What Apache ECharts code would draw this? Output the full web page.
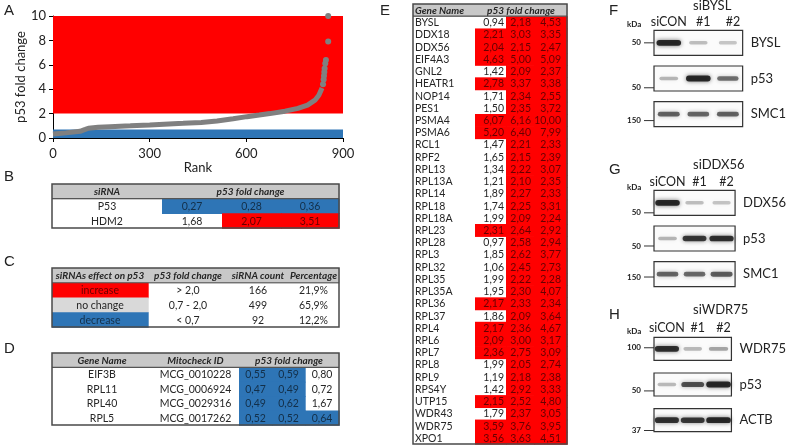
<!DOCTYPE html>
<html><head><meta charset="utf-8">
<script src="https://cdn.jsdelivr.net/npm/echarts@6/dist/echarts.min.js"></script>
<style>html,body{margin:0;padding:0;background:#fff}#c{width:789px;height:446px}</style>
</head><body><div id="c"></div>
<script>
// ---------------- DATA ----------------
// Panel A: ranked p53 fold change curve
const rankA = [0, 40, 84, 100, 110, 140, 177, 240, 300, 404, 460, 509, 559, 602, 640, 673, 720, 760, 790, 813, 825, 835];
const foldA = [0.33, 0.42, 0.55, 0.70, 0.80, 0.88, 0.93, 1.00, 1.07, 1.20, 1.28, 1.39, 1.58, 1.75, 1.88, 2.00, 2.20, 2.43, 2.70, 3.10, 3.50, 4.10];
const tailRank = [838, 840, 841, 842, 843, 845, 847, 854, 854];
const tailFold = [4.4, 4.8, 5.1, 5.4, 5.7, 6.1, 6.4, 7.9, 10.0];
const xTicksA = [0, 300, 600, 900];
const yTicksA = [0, 2, 4, 6, 8, 10];
const increaseRange = [2, 10];
const decreaseRange = [0, 0.7];

// Panel B
const bSirna = ['P53', 'HDM2'];
const bFold = [[0.27, 0.28, 0.36], [1.68, 2.07, 3.51]];
// Panel C
const cEffect = ['increase', 'no change', 'decrease'];
const cRange = ['> 2,0', '0,7 - 2,0', '< 0,7'];
const cCount = [166, 499, 92];
const cPercent = ['21,9%', '65,9%', '12,2%'];
// Panel D
const dGenes = ['EIF3B', 'RPL11', 'RPL40', 'RPL5'];
const dIds = ['MCG_0010228', 'MCG_0006924', 'MCG_0029316', 'MCG_0017262'];
const dFold = [[0.55, 0.59, 0.80], [0.47, 0.49, 0.72], [0.49, 0.62, 1.67], [0.52, 0.52, 0.64]];
// Panel E
const eGenes = ['BYSL','DDX18','DDX56','EIF4A3','GNL2','HEATR1','NOP14','PES1','PSMA4','PSMA6','RCL1','RPF2','RPL13','RPL13A','RPL14','RPL18','RPL18A','RPL23','RPL28','RPL3','RPL32','RPL35','RPL35A','RPL36','RPL37','RPL4','RPL6','RPL7','RPL8','RPL9','RPS4Y','UTP15','WDR43','WDR75','XPO1'];
const eFold = [[0.94,2.18,4.53],[2.21,3.03,3.35],[2.04,2.15,2.47],[4.63,5.00,5.09],[1.42,2.09,2.37],[2.78,3.37,3.38],[1.71,2.34,2.55],[1.50,2.35,3.72],[6.07,6.16,10.00],[5.20,6.40,7.99],[1.47,2.21,2.33],[1.65,2.15,2.39],[1.34,2.22,3.07],[1.21,2.10,2.35],[1.89,2.27,2.33],[1.74,2.25,3.31],[1.99,2.09,2.24],[2.31,2.64,2.92],[0.97,2.58,2.94],[1.85,2.62,3.77],[1.06,2.45,2.73],[1.99,2.22,2.28],[1.95,2.30,4.07],[2.17,2.33,2.34],[1.86,2.09,3.64],[2.17,2.36,4.67],[2.09,3.00,3.17],[2.36,2.75,3.09],[1.99,2.05,2.74],[1.19,2.18,2.38],[1.42,2.92,3.33],[2.15,2.52,4.80],[1.79,2.37,3.05],[3.59,3.76,3.95],[3.56,3.63,4.51]];
// Western blots (band intensity 0..1 per protein row, per lane)
const blotLanes = ['siCON', '#1', '#2'];
const fTitle = 'siBYSL', fProteins = ['BYSL', 'p53', 'SMC1'], fBands = [[0.95, 0.18, 0.14], [0.22, 0.95, 0.55], [0.62, 0.6, 0.62]], fKda = ['50', '50', '150'];
const gTitle = 'siDDX56', gProteins = ['DDX56', 'p53', 'SMC1'], gBands = [[0.95, 0.18, 0.15], [0.22, 0.85, 0.9], [0.6, 0.58, 0.65]], gKda = ['50', '50', '150'];
const hTitle = 'siWDR75', hProteins = ['WDR75', 'p53', 'ACTB'], hBands = [[0.9, 0.2, 0.3], [0.2, 0.72, 0.95], [0.88, 0.85, 0.95]], hKda = ['100', '50', '37'];

// ---------------- STYLE / LAYOUT ----------------
const FONT = 'Lato, "Open Sans", sans-serif';
const RED = '#ff0000', BLUE = '#2e75b6', HDR = '#c8c8c8', LGRAY = '#d9d9d9', GREYLINE = '#808080';
const fmt = v => v.toFixed(2).replace('.', ',');
const foldFill = v => v > 2 ? RED : (v < 0.7 ? BLUE : null);

const grids = [], xAxes = [], yAxes = [], series = [], graphics = [];

// ---------- Panel A ----------
grids.push({left: 53, top: 16, width: 290, height: 122});
xAxes.push({gridIndex: 0, type: 'value', min: xTicksA[0], max: xTicksA[xTicksA.length - 1], interval: 300,
  name: 'Rank', nameLocation: 'middle', nameGap: 17, nameTextStyle: {fontFamily: FONT, fontSize: 13, color: '#222'},
  axisLine: {lineStyle: {color: '#000', width: 1}}, axisTick: {length: 4, lineStyle: {color: '#000'}},
  axisLabel: {fontFamily: FONT, fontSize: 13, color: '#222', margin: 9}, splitLine: {show: false}});
yAxes.push({gridIndex: 0, type: 'value', min: yTicksA[0], max: yTicksA[yTicksA.length - 1], interval: 2,
  name: 'p53 fold change', nameLocation: 'middle', nameGap: 21, nameTextStyle: {fontFamily: FONT, fontSize: 13, color: '#222'},
  axisLine: {show: true, lineStyle: {color: '#000', width: 1}}, axisTick: {show: true, length: 4, lineStyle: {color: '#000'}},
  axisLabel: {fontFamily: FONT, fontSize: 13, color: '#222', margin: 7}, splitLine: {show: false}});
series.push({type: 'line', xAxisIndex: 0, yAxisIndex: 0, data: [], z: 1, silent: true,
  markArea: {silent: true, data: [
    [{xAxis: xTicksA[0], yAxis: increaseRange[0], itemStyle: {color: RED, opacity: 1}}, {xAxis: xTicksA[3], yAxis: increaseRange[1]}],
    [{xAxis: xTicksA[0], yAxis: decreaseRange[0], itemStyle: {color: BLUE, opacity: 1}}, {xAxis: xTicksA[3], yAxis: decreaseRange[1]}]
  ]}});
series.push({type: 'line', xAxisIndex: 0, yAxisIndex: 0, z: 5, silent: true, showSymbol: false,
  data: rankA.map((r, i) => [r, foldA[i]]), lineStyle: {color: GREYLINE, width: 5}, itemStyle: {color: GREYLINE}});
series.push({type: 'scatter', xAxisIndex: 0, yAxisIndex: 0, z: 5, silent: true, symbolSize: 6,
  data: tailRank.map((r, i) => [r, tailFold[i]]), itemStyle: {color: GREYLINE, opacity: 1}});

// ---------- Table builder ----------
function addTable(box, colEdges, nRows, cells, fontSize, hdrSize) {
  const gi = grids.length;
  const maxX = colEdges[colEdges.length - 1];
  grids.push({left: box.left, top: box.top, width: box.width, height: box.height});
  xAxes.push({gridIndex: gi, type: 'value', min: 0, max: maxX, show: false});
  yAxes.push({gridIndex: gi, type: 'category', data: Array.from({length: nRows}, (_, i) => String(i)), inverse: true, show: false});
  const all = cells.concat([{frame: true, r: 0, c0: 0, c1: colEdges.length - 1}]);
  series.push({type: 'custom', xAxisIndex: gi, yAxisIndex: gi, silent: true, clip: false, z: 3,
    data: all.map(c => [colEdges[c.c0], c.r]),
    renderItem(params, api) {
      const c = all[params.dataIndex];
      const h = api.size([0, 1])[1];
      if (c.frame) {
        const tl = api.coord([0, 0]), br = api.coord([maxX, nRows - 1]);
        return {type: 'group', children: [
          {type: 'line', shape: {x1: tl[0], y1: tl[1] + h / 2, x2: br[0], y2: tl[1] + h / 2}, style: {stroke: '#555', lineWidth: 1.2}},
          {type: 'rect', shape: {x: tl[0], y: tl[1] - h / 2, width: br[0] - tl[0], height: br[1] - tl[1] + h}, style: {fill: null, stroke: '#4a4a4a', lineWidth: 1.5}}
        ]};
      }
      const p0 = api.coord([colEdges[c.c0], c.r]);
      const x0 = p0[0], x1 = api.coord([colEdges[c.c1], c.r])[0];
      const y = p0[1] - h / 2;
      const ch = [];
      if (c.fill) ch.push({type: 'rect', shape: {x: x0, y: y, width: x1 - x0 + 0.7, height: h + 0.7}, style: {fill: c.fill}});
      if (c.text !== undefined) {
        let tx = (x0 + x1) / 2, al = 'center';
        if (c.align === 'left') { tx = x0 + (c.pad || 2); al = 'left'; }
        if (c.align === 'right') { tx = x1 - (c.pad || 3); al = 'right'; }
        ch.push({type: 'text', style: {text: String(c.text), x: tx, y: p0[1] + 0.5, align: al, verticalAlign: 'middle',
          fontFamily: FONT, fontSize: c.header ? hdrSize : fontSize, fontWeight: c.header ? 'bold' : 'normal', fontStyle: c.header ? 'italic' : 'normal',
          fill: c.fill && c.fill !== HDR && c.fill !== LGRAY ? 'rgba(0,0,0,0.6)' : '#262626'}});
      }
      return {type: 'group', children: ch};
    }});
}

// Panel B
(function () {
  const cols = [0, 110, 170, 229, 287];
  const cells = [{c0: 0, c1: 4, r: 0, fill: HDR}, {c0: 0, c1: 1, r: 0, text: 'siRNA', header: true}, {c0: 1, c1: 4, r: 0, text: 'p53 fold change', header: true}];
  bSirna.forEach((s, i) => {
    cells.push({c0: 0, c1: 1, r: i + 1, text: s});
    bFold[i].forEach((v, j) => cells.push({c0: j + 1, c1: j + 2, r: i + 1, text: fmt(v), fill: foldFill(v)}));
  });
  addTable({left: 52, top: 184, width: 287, height: 44}, cols, 3, cells, 10.5, 10);
})();
// Panel C
(function () {
  const cols = [0, 96, 176, 236, 287];
  const hdr = ['siRNAs effect on p53', 'p53 fold change', 'siRNA count', 'Percentage'];
  const cells = [{c0: 0, c1: 4, r: 0, fill: HDR}];
  hdr.forEach((t, j) => cells.push({c0: j, c1: j + 1, r: 0, text: t, header: true}));
  const effFill = [RED, LGRAY, BLUE];
  cEffect.forEach((e, i) => {
    cells.push({c0: 0, c1: 1, r: i + 1, text: e, fill: effFill[i]});
    cells.push({c0: 1, c1: 2, r: i + 1, text: cRange[i]});
    cells.push({c0: 2, c1: 3, r: i + 1, text: cCount[i]});
    cells.push({c0: 3, c1: 4, r: i + 1, text: cPercent[i]});
  });
  addTable({left: 52, top: 268, width: 287, height: 59}, cols, 4, cells, 10.5, 10);
})();
// Panel D
(function () {
  const cols = [0, 100, 187, 220, 253, 287];
  const cells = [{c0: 0, c1: 5, r: 0, fill: HDR}, {c0: 0, c1: 1, r: 0, text: 'Gene Name', header: true},
    {c0: 1, c1: 2, r: 0, text: 'Mitocheck ID', header: true}, {c0: 2, c1: 5, r: 0, text: 'p53 fold change', header: true}];
  dGenes.forEach((g, i) => {
    cells.push({c0: 0, c1: 1, r: i + 1, text: g});
    cells.push({c0: 1, c1: 2, r: i + 1, text: dIds[i]});
    dFold[i].forEach((v, j) => cells.push({c0: j + 2, c1: j + 3, r: i + 1, text: fmt(v), fill: foldFill(v)}));
  });
  addTable({left: 52, top: 353, width: 287, height: 72}, cols, 5, cells, 10.5, 10);
})();
// Panel E
(function () {
  const cols = [0, 62, 93, 121, 154];
  const pads = [2, 3, 6];
  const cells = [{c0: 0, c1: 4, r: 0, fill: HDR}, {c0: 0, c1: 1, r: 0, text: 'Gene Name', header: true, align: 'left'},
    {c0: 1, c1: 4, r: 0, text: 'p53 fold change', header: true}];
  eGenes.forEach((g, i) => {
    cells.push({c0: 0, c1: 1, r: i + 1, text: g, align: 'left'});
    eFold[i].forEach((v, j) => cells.push({c0: j + 1, c1: j + 2, r: i + 1, text: fmt(v), fill: foldFill(v), align: 'right', pad: pads[j]}));
  });
  addTable({left: 413, top: 4, width: 154, height: 440}, cols, 36, cells, 10.5, 10);
})();

// ---------- Blot builder ----------
function addBlot(box, title, proteins, bands, kda, kdaOff) {
  const gi = grids.length;
  grids.push({left: box.left, top: box.top, width: box.width, height: box.height});
  xAxes.push({gridIndex: gi, type: 'category', data: blotLanes, position: 'top', axisLine: {show: false}, axisTick: {show: false},
    axisLabel: {interval: 0, hideOverlap: false, fontFamily: FONT, fontSize: 12.5, color: '#222', margin: -3,
      formatter: (v, i) => i === 0 ? v : '{s|' + v + '}', rich: {s: {fontFamily: FONT, fontSize: 12.5, color: '#222', padding: [0, 0, 0, 10]}}}});
  yAxes.push({gridIndex: gi, type: 'category', data: proteins, inverse: true, position: 'right', axisLine: {show: false}, axisTick: {show: false},
    axisLabel: {interval: 0, fontFamily: FONT, fontSize: 13, color: '#222', margin: 8}});
  // boxes + kDa markers
  series.push({type: 'custom', xAxisIndex: gi, yAxisIndex: gi, silent: true, z: 3, clip: false,
    data: proteins.map((p, i) => [0, i]),
    renderItem(params, api) {
      const i = params.dataIndex;
      const cs = params.coordSys;
      const rowH = api.size([0, 1])[1];
      const cy = api.coord([0, i])[1];
      const bh = box.boxH;
      const my = cy + kdaOff[i] * rowH;
      return {type: 'group', children: [
        {type: 'rect', shape: {x: cs.x, y: cy - bh / 2, width: cs.width, height: bh}, style: {fill: '#fbfbfb', stroke: '#333', lineWidth: 1.2}},
        {type: 'line', shape: {x1: cs.x - 10, y1: my, x2: cs.x, y2: my}, style: {stroke: '#333', lineWidth: 1}},
        {type: 'text', style: {text: kda[i], x: cs.x - 13, y: my, align: 'right', verticalAlign: 'middle', fontFamily: FONT, fontSize: 8, fontWeight: 'bold', fill: '#222'}}
      ]};
    }});
  // bands
  const bandData = [];
  bands.forEach((row, r) => row.forEach((v, l) => bandData.push([l, r, v])));
  series.push({type: 'custom', xAxisIndex: gi, yAxisIndex: gi, silent: true, z: 4, clip: false,
    data: bandData,
    renderItem(params, api) {
      const p = api.coord([api.value(0), api.value(1)]);
      const v = api.value(2);
      const w = 17 + 8 * v, h = 3 + 3 * v;
      return {type: 'rect', shape: {x: p[0] - w / 2, y: p[1] - h / 2, width: w, height: h, r: h / 2},
        style: {fill: 'rgba(20,20,20,' + (0.1 + 0.82 * v) + ')', shadowBlur: 4, shadowColor: 'rgba(20,20,20,' + (0.1 + 0.6 * v) + ')'}};
    }});
  graphics.push({type: 'text', left: box.left + box.width * 2 / 3 - 21, top: box.titleY - 7, style: {text: title, font: '13px ' + FONT, fill: '#222'}});
  graphics.push({type: 'text', left: box.left - 27, top: box.kdaY - 4, style: {text: 'kDa', font: 'bold 8px ' + FONT, fill: '#222'}});
}
addBlot({left: 654, top: 25, width: 90, height: 107, boxH: 25, titleY: 6, kdaY: 24}, fTitle, fProteins, fBands, fKda, [0, 0.26, 0.18]);
addBlot({left: 654, top: 185, width: 90, height: 107, boxH: 25, titleY: 165, kdaY: 187}, gTitle, gProteins, gBands, gKda, [0.28, 0.21, 0.08]);
addBlot({left: 654, top: 331, width: 90, height: 107, boxH: 23, titleY: 310, kdaY: 331}, hTitle, hProteins, hBands, hKda, [-0.03, 0.18, 0.29]);

// Panel letters
[['A', 4, 3], ['B', 4, 169], ['C', 4, 254], ['D', 4, 341], ['E', 380, 3], ['F', 609, 3], ['G', 609, 162], ['H', 609, 307]].forEach(l =>
  graphics.push({type: 'text', left: l[1], top: l[2], style: {text: l[0], font: '15px "Liberation Sans", Arial, sans-serif', fill: '#222'}}));

const chart = echarts.init(document.getElementById('c'), null, {renderer: 'canvas'});
chart.setOption({animation: false, backgroundColor: '#fff', grid: grids, xAxis: xAxes, yAxis: yAxes, series: series, graphic: graphics});
</script></body></html>
